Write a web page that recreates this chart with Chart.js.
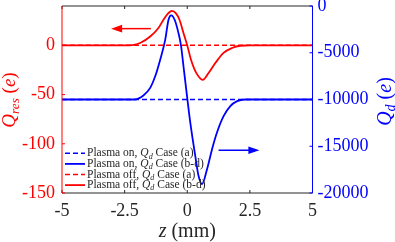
<!DOCTYPE html>
<html>
<head>
<meta charset="utf-8">
<script src="https://cdn.jsdelivr.net/npm/chart.js@4"></script>
<style>
  html, body { margin: 0; padding: 0; background: #fff; }
</style>
</head>
<body>
<canvas id="chart" width="395" height="242"></canvas>
<script>
// values: z in mm, charges in e
const zOn = [-5, -2.5, -2.1, -1.75, -1.48, -1.28, -1.08, -0.88, -0.75, -0.64, -0.5, -0.35, -0.25, -0.15, -0.04, 0.12, 0.32, 0.45, 0.59, 0.79, 0.99, 1.19, 1.45, 1.72, 1.99, 2.3, 2.5, 5];
const qdOn = [-10000, -10000, -10000, -9570, -8760, -7520, -5740, -3620, -1490, -1000, -1500, -2900, -4220, -6460, -8940, -12450, -16030, -18160, -19050, -17450, -15320, -13510, -11780, -10710, -10180, -10000, -10000, -10000];

const zOff = [-5, -2.5, -2.2, -1.88, -1.48, -1.15, -0.95, -0.78, -0.61, -0.45, -0.31, -0.15, 0, 0.15, 0.36, 0.62, 0.85, 1.12, 1.45, 1.79, 2.12, 2.5, 5];
const qresOff = [0, 0, 0.3, 2.4, 9, 17.7, 26, 32, 35, 32.5, 26, 12.6, 0, -14.6, -28, -35, -28, -18, -7.7, -2.7, -0.4, 0, 0];

const zFlat = [-5, 5];
const qdCaseA = [-10000, -10000];
const qresCaseA = [0, 0];

const xTicks = [-5, -2.5, 0, 2.5, 5];
const leftTicks = [-150, -100, -50, 0];
const rightTicks = [-20000, -15000, -10000, -5000, 0];

// arrows: [z tail, z head, value]
const redArrow = [-1.45, -3.04, 17];
const blueArrow = [1.25, 2.88, -15430];

const RED = "#ff0000";
const BLUE = "#0000ff";
const DARK = "#262626";
const FONT = '"Liberation Serif", "Times New Roman", serif';

const legendItems = [
  { color: BLUE, dash: [5, 3], pre: "Plasma on, ", post: " Case (a)" },
  { color: BLUE, dash: [], pre: "Plasma on, ", post: " Case (b-d)" },
  { color: RED, dash: [5, 3], pre: "Plasma off, ", post: " Case (a)" },
  { color: RED, dash: [], pre: "Plasma off, ", post: " Case (b-d)" },
];

const toXY = (xs, ys) => xs.map((x, i) => ({ x: x, y: ys[i] }));

// parts: [text, style]  style '' upright, 'i' italic, 's' italic subscript
function drawRich(ctx, parts, x, y, size, color, align) {
  ctx.save();
  ctx.fillStyle = color;
  ctx.textBaseline = "middle";
  ctx.textAlign = "left";
  const fontFor = (p) => (p[1] ? "italic " : "") + (p[1] === "s" ? size * 0.7 : size) + "px " + FONT;
  let w = 0;
  parts.forEach((p) => { ctx.font = fontFor(p); w += ctx.measureText(p[0]).width; });
  let cx = align === "center" ? x - w / 2 : x;
  parts.forEach((p) => {
    ctx.font = fontFor(p);
    ctx.fillText(p[0], cx, y + (p[1] === "s" ? size * 0.28 : 0));
    cx += ctx.measureText(p[0]).width;
  });
  ctx.restore();
}

function drawArrow(ctx, x1, x2, y, color) {
  const dir = Math.sign(x2 - x1);
  ctx.save();
  ctx.strokeStyle = color;
  ctx.fillStyle = color;
  ctx.lineWidth = 1.5;
  ctx.beginPath();
  ctx.moveTo(x1, y);
  ctx.lineTo(x2 - dir * 8, y);
  ctx.stroke();
  ctx.beginPath();
  ctx.moveTo(x2, y);
  ctx.lineTo(x2 - dir * 11, y - 3.8);
  ctx.lineTo(x2 - dir * 11, y + 3.8);
  ctx.closePath();
  ctx.fill();
  ctx.restore();
}

const decorPlugin = {
  id: "decor",
  afterDatasetsDraw(chart) {
    const ctx = chart.ctx;
    const a = chart.chartArea;
    const sx = chart.scales.x, sl = chart.scales.y, sr = chart.scales.y1;
    const tl = 3;

    ctx.save();
    ctx.lineWidth = 1;
    // top / bottom box lines and inward ticks
    ctx.strokeStyle = DARK;
    ctx.beginPath();
    ctx.moveTo(a.left, a.top); ctx.lineTo(a.right, a.top);
    ctx.moveTo(a.left, a.bottom); ctx.lineTo(a.right, a.bottom);
    xTicks.forEach((v) => {
      const px = sx.getPixelForValue(v);
      ctx.moveTo(px, a.bottom); ctx.lineTo(px, a.bottom - tl);
      ctx.moveTo(px, a.top); ctx.lineTo(px, a.top + tl);
    });
    ctx.stroke();
    // left axis
    ctx.strokeStyle = RED;
    ctx.beginPath();
    ctx.moveTo(a.left, a.top); ctx.lineTo(a.left, a.bottom);
    leftTicks.forEach((v) => {
      const py = sl.getPixelForValue(v);
      ctx.moveTo(a.left, py); ctx.lineTo(a.left + tl, py);
    });
    ctx.stroke();
    // right axis
    ctx.strokeStyle = BLUE;
    ctx.beginPath();
    ctx.moveTo(a.right, a.top); ctx.lineTo(a.right, a.bottom);
    rightTicks.forEach((v) => {
      const py = sr.getPixelForValue(v);
      ctx.moveTo(a.right, py); ctx.lineTo(a.right - tl, py);
    });
    ctx.stroke();
    ctx.restore();

    // arrows pointing at the axis each curve belongs to
    drawArrow(ctx, sx.getPixelForValue(redArrow[0]), sx.getPixelForValue(redArrow[1]), sl.getPixelForValue(redArrow[2]), RED);
    drawArrow(ctx, sx.getPixelForValue(blueArrow[0]), sx.getPixelForValue(blueArrow[1]), sr.getPixelForValue(blueArrow[2]), BLUE);

    // legend (no box)
    legendItems.forEach((it, i) => {
      const y = 153.3 + i * 10.6;
      ctx.save();
      ctx.strokeStyle = it.color;
      ctx.lineWidth = it.dash.length ? 1.5 : 1.8;
      ctx.setLineDash(it.dash);
      ctx.beginPath();
      ctx.moveTo(65, y); ctx.lineTo(85, y);
      ctx.stroke();
      ctx.restore();
      drawRich(ctx, [[it.pre, ""], ["Q", "i"], ["d", "s"], [it.post, ""]], 87, y, 11.5, DARK, "left");
    });

    // axis titles
    drawRich(ctx, [["z", "i"], [" (mm)", ""]], (a.left + a.right) / 2, 231.5, 20, DARK, "center");
    ctx.save();
    ctx.translate(10, 100);
    ctx.rotate(-Math.PI / 2);
    drawRich(ctx, [["Q", "i"], ["res", "s"], [" (", ""], ["e", "i"], [")", ""]], 0, 0, 19, RED, "center");
    ctx.restore();
    ctx.save();
    ctx.translate(385.5, 101.5);
    ctx.rotate(-Math.PI / 2);
    drawRich(ctx, [["Q", "i"], ["d", "s"], [" (", ""], ["e", "i"], [")", ""]], 0, 0, 20, BLUE, "center");
    ctx.restore();
  },
};

const noPad = (s) => { s.paddingTop = 0; s.paddingBottom = 0; s.paddingLeft = 0; s.paddingRight = 0; };

new Chart(document.getElementById("chart"), {
  type: "line",
  data: {
    datasets: [
      { data: toXY(zFlat, qdCaseA), yAxisID: "y1", borderColor: BLUE, borderDash: [5, 3], borderWidth: 1.5, pointRadius: 0 },
      { data: toXY(zOn, qdOn), yAxisID: "y1", borderColor: BLUE, borderWidth: 1.8, pointRadius: 0, cubicInterpolationMode: "monotone" },
      { data: toXY(zFlat, qresCaseA), yAxisID: "y", borderColor: RED, borderDash: [5, 3], borderWidth: 1.5, pointRadius: 0 },
      { data: toXY(zOff, qresOff), yAxisID: "y", borderColor: RED, borderWidth: 1.8, pointRadius: 0, cubicInterpolationMode: "monotone" },
    ],
  },
  options: {
    responsive: false,
    animation: false,
    layout: { padding: { top: 6, left: 0, right: 0, bottom: 0 } },
    plugins: { legend: { display: false }, tooltip: { enabled: false } },
    scales: {
      x: {
        type: "linear",
        min: -5,
        max: 5,
        afterBuildTicks: (s) => { s.ticks = xTicks.map((v) => ({ value: v })); },
        afterFit: (s) => { s.height = 49; noPad(s); },
        grid: { display: false, drawTicks: false },
        border: { display: false },
        ticks: { color: DARK, padding: 7, font: { family: FONT, size: 18 }, callback: (v) => String(v), maxRotation: 0 },
      },
      y: {
        position: "left",
        min: -150,
        max: 40,
        afterBuildTicks: (s) => { s.ticks = leftTicks.map((v) => ({ value: v })); },
        afterFit: (s) => { s.width = 62; noPad(s); },
        grid: { display: false, drawTicks: false },
        border: { display: false },
        ticks: { color: RED, padding: 7, font: { family: FONT, size: 18 }, callback: (v) => String(v) },
      },
      y1: {
        position: "right",
        min: -20000,
        max: 0,
        afterBuildTicks: (s) => { s.ticks = rightTicks.map((v) => ({ value: v })); },
        afterFit: (s) => { s.width = 82.5; noPad(s); },
        grid: { display: false, drawTicks: false },
        border: { display: false },
        ticks: { color: BLUE, padding: 5, font: { family: FONT, size: 18 }, callback: (v) => String(v) },
      },
    },
  },
  plugins: [decorPlugin],
});
</script>
</body>
</html>
